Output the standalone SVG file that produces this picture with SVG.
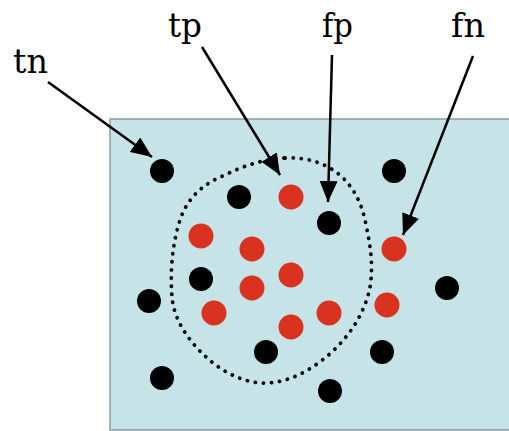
<svg xmlns="http://www.w3.org/2000/svg" width="509" height="431" viewBox="0 0 509 431">
<style>
.lbl{font-family:"DejaVu Serif","Liberation Serif",serif;font-size:34px;fill:#000}
.b{fill:#000}
.r{fill:#d9321f}
.arr{stroke:#000;stroke-width:2.5;fill:none;marker-end:url(#ah)}
</style>
<defs>
<marker id="ah" markerUnits="userSpaceOnUse" markerWidth="21" markerHeight="18" refX="21" refY="9" orient="auto" viewBox="0 0 21 18">
<path d="M0,0 L21,9 L0,18 z" fill="#000"/>
</marker>
</defs>
<rect x="110" y="119" width="405" height="311" fill="#c6e4e8" stroke="#8a9a9c" stroke-width="1.5"/>
<path id="boundary" d="M285,158 C305,157 322,162 336,172 C352,184 362,202 366,225 C371,248 374,270 369,292 C363,315 350,335 332,352 C314,368 292,382 267,383 C245,384 222,372 205,356 C188,340 174,320 172,297 C170,273 172,245 180,220 C188,196 205,183 225,175 C245,165 265,159 285,158 Z" fill="none" stroke="#000" stroke-width="3.8" stroke-linecap="round" stroke-dasharray="0.1 8"/>
<g id="black-dots">
<circle class="b" cx="162" cy="171" r="12"/>
<circle class="b" cx="239" cy="197" r="12"/>
<circle class="b" cx="329" cy="223" r="12"/>
<circle class="b" cx="394" cy="171" r="12"/>
<circle class="b" cx="201" cy="279" r="12"/>
<circle class="b" cx="149" cy="301" r="12"/>
<circle class="b" cx="447" cy="288" r="12"/>
<circle class="b" cx="266" cy="352" r="12"/>
<circle class="b" cx="382" cy="352" r="12"/>
<circle class="b" cx="162" cy="378" r="12"/>
<circle class="b" cx="330" cy="391" r="12"/>
</g>
<g id="red-dots">
<circle class="r" cx="291" cy="197" r="12.5"/>
<circle class="r" cx="201" cy="236" r="12.5"/>
<circle class="r" cx="252" cy="249" r="12.5"/>
<circle class="r" cx="291" cy="275" r="12.5"/>
<circle class="r" cx="252" cy="288" r="12.5"/>
<circle class="r" cx="214" cy="313" r="12.5"/>
<circle class="r" cx="291" cy="327" r="12.5"/>
<circle class="r" cx="329" cy="313" r="12.5"/>
<circle class="r" cx="394" cy="249" r="12.5"/>
<circle class="r" cx="387" cy="305" r="12.5"/>
</g>
<g id="tn"><text class="lbl" x="13" y="73" textLength="35" lengthAdjust="spacingAndGlyphs">tn</text></g>
<g id="tp"><text class="lbl" x="168" y="37" textLength="34" lengthAdjust="spacingAndGlyphs">tp</text></g>
<g id="fp"><text class="lbl" x="322" y="37" textLength="31" lengthAdjust="spacingAndGlyphs">fp</text></g>
<g id="fn"><text class="lbl" x="451" y="37" textLength="34" lengthAdjust="spacingAndGlyphs">fn</text></g>
<g id="connectors">
<line class="arr" x1="48" y1="82" x2="152" y2="157"/>
<line class="arr" x1="202" y1="47" x2="280" y2="175"/>
<line class="arr" x1="332" y1="55" x2="328" y2="202"/>
<line class="arr" x1="473" y1="56" x2="403" y2="235"/>
</g>
</svg>
